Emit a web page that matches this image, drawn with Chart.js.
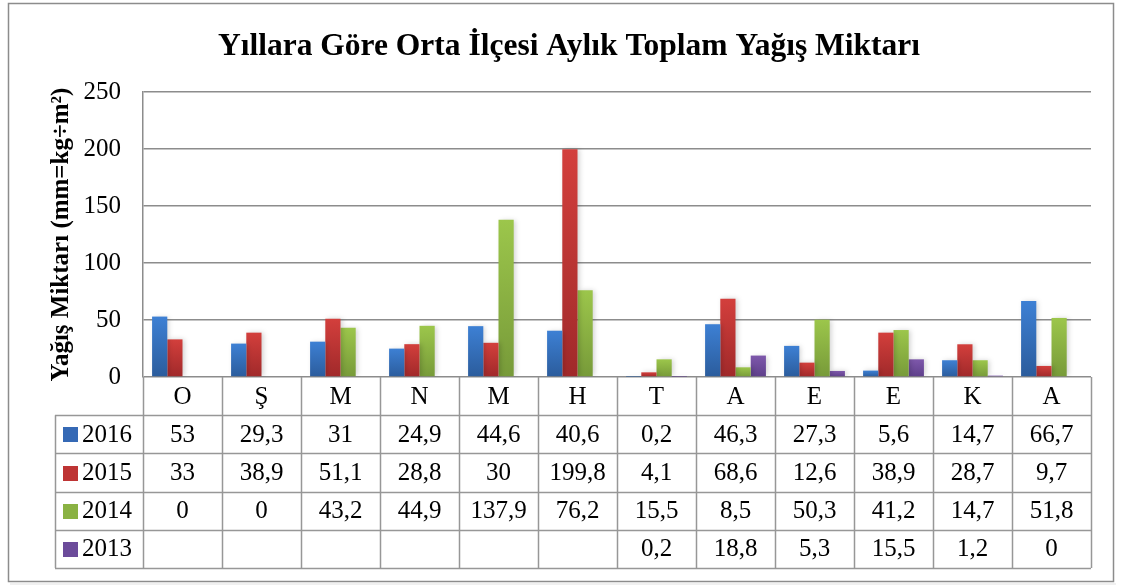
<!DOCTYPE html>
<html><head><meta charset="utf-8">
<script src="https://cdn.jsdelivr.net/npm/chart.js@4.4.1/dist/chart.umd.min.js"></script>
<style>html,body{margin:0;padding:0;background:#fff}#wrap{width:1121px;height:585px;position:relative}</style>
</head><body><div id="wrap"><canvas id="c" width="1121" height="585"></canvas></div>
<script>
const categories = ['O','Ş','M','N','M','H','T','A','E','E','K','A'];
const seriesNames = ['2016','2015','2014','2013'];
const v2016 = [53, 29.3, 31, 24.9, 44.6, 40.6, 0.2, 46.3, 27.3, 5.6, 14.7, 66.7];
const v2015 = [33, 38.9, 51.1, 28.8, 30, 199.8, 4.1, 68.6, 12.6, 38.9, 28.7, 9.7];
const v2014 = [0, 0, 43.2, 44.9, 137.9, 76.2, 15.5, 8.5, 50.3, 41.2, 14.7, 51.8];
const v2013 = [null, null, null, null, null, null, 0.2, 18.8, 5.3, 15.5, 1.2, 0];
const yTicks = [0, 50, 100, 150, 200, 250];
const titleText = 'Yıllara Göre Orta İlçesi Aylık Toplam Yağış Miktarı';
const yTitle = 'Yağış Miktarı (mm=kg÷m²)';

const colorsTop = ['#3d80d4','#d33f3c','#9cc64b','#7e58ab'];
const colorsBot = ['#2b5c9c','#a0292a','#779a39','#5e3f8a'];
const legendColor = ['#3569b5','#be3434','#8ab243','#6c4b9a'];
const SERIF = '"Liberation Serif","Times New Roman",serif';

function grad(i){
  return function(ctx){
    const chart = ctx.chart; const ca = chart.chartArea;
    if(!ca || ctx.type !== 'data') return colorsTop[i];
    const ys = chart.scales.y; const v = ctx.raw;
    if(v === null || v === undefined) return colorsTop[i];
    const yTop = ys.getPixelForValue(v), yBase = ys.getPixelForValue(0);
    if (Math.abs(yBase - yTop) < 1) return colorsBot[i];
    const g = chart.ctx.createLinearGradient(0, yTop, 0, yBase);
    g.addColorStop(0, colorsTop[i]); g.addColorStop(1, colorsBot[i]);
    return g;
  };
}
const allData = [v2016, v2015, v2014, v2013];
const datasets = allData.map((d,i)=>({label: seriesNames[i], data: d, backgroundColor: grad(i), borderWidth:0, categoryPercentage:0.77, barPercentage:1.0}));

const frame = {
  id:'frame',
  beforeDraw(chart){
    const c = chart.ctx; c.save();
    c.fillStyle='#fff'; c.fillRect(0,0,chart.width,chart.height);
    c.fillStyle='rgba(0,0,0,0.06)'; c.fillRect(10,583,1106,2);
    c.strokeStyle='#8c8c8c'; c.lineWidth=1.5; c.strokeRect(8.5,3.5,1105,578);
    c.restore();
  }
};
const shadow = {
  id:'shadow',
  beforeDatasetsDraw(chart){ const c=chart.ctx; c.save(); c.shadowColor='rgba(0,0,0,0.18)'; c.shadowBlur=5; c.shadowOffsetX=2; c.shadowOffsetY=0; },
  afterDatasetsDraw(chart){ chart.ctx.restore(); }
};
const table = {
  id:'table',
  afterDraw(chart){
    const c = chart.ctx, xs = chart.scales.x, ca = chart.chartArea;
    const top = ca.bottom, bottom = xs.bottom;
    const rowH = (bottom - top) / 5;
    const colW = (xs.right - xs.left) / categories.length;
    const legendLeft = 55;
    c.save();
    c.strokeStyle = '#979797'; c.lineWidth = 1.5;
    c.beginPath();
    for (let r=1;r<=5;r++){ const y = Math.round(top + r*rowH)+0.5; c.moveTo(legendLeft, y); c.lineTo(xs.right, y); }
    for (let k=0;k<=categories.length;k++){ const x = Math.round(xs.left + k*colW)+0.5; c.moveTo(x, top); c.lineTo(x, bottom); }
    c.moveTo(legendLeft+0.5, top+rowH); c.lineTo(legendLeft+0.5, bottom);
    c.stroke();
    c.fillStyle='#000'; c.textAlign='center'; c.textBaseline='middle';
    c.font = '25px ' + SERIF;
    categories.forEach((lab,k)=>{ c.fillText(lab, xs.getPixelForTick(k), top + rowH/2 + 1); });
    allData.forEach((d,r)=>{
      const yc = top + (r+1)*rowH + rowH/2 + 1;
      d.forEach((v,k)=>{ if(v===null||v===undefined) return; c.fillText(String(v).replace('.',','), xs.getPixelForTick(k), yc); });
      c.fillStyle = legendColor[r]; c.fillRect(63, Math.round(yc-8), 15, 15);
      c.fillStyle = '#000'; c.textAlign='left'; c.fillText(seriesNames[r], 82, yc); c.textAlign='center';
    });
    c.restore();
  }
};

new Chart(document.getElementById('c'), {
  type:'bar',
  data:{labels: categories, datasets},
  options:{
    responsive:false, animation:false,
    layout:{padding:{left:47, right:30, top:10, bottom:17}},
    plugins:{
      legend:{display:false}, tooltip:{enabled:false},
      title:{display:true, text:titleText, color:'#000', font:{family:SERIF, size:31.5, weight:'bold', lineHeight:1.2}, padding:{top:18, bottom:26.2}}
    },
    scales:{
      x:{
        grid:{display:false}, border:{display:false},
        ticks:{display:false},
        afterFit(s){ s.height = 191; }
      },
      y:{
        min:0, max:250,
        afterBuildTicks(s){ s.ticks = yTicks.map(v=>({value:v})); },
        grid:{color:'#8c8c8c', lineWidth:1.5, drawTicks:false},
        border:{display:true, color:'#8c8c8c', width:1.5},
        ticks:{color:'#000', padding:22, font:{family:SERIF, size:25}},
        title:{display:true, text:yTitle, color:'#000', font:{family:SERIF, size:25, weight:'bold'}, padding:{top:0,bottom:0}},
        afterFit(s){ s.width = 143 - 47; }
      }
    }
  },
  plugins:[frame, shadow, table]
});
</script></body></html>
